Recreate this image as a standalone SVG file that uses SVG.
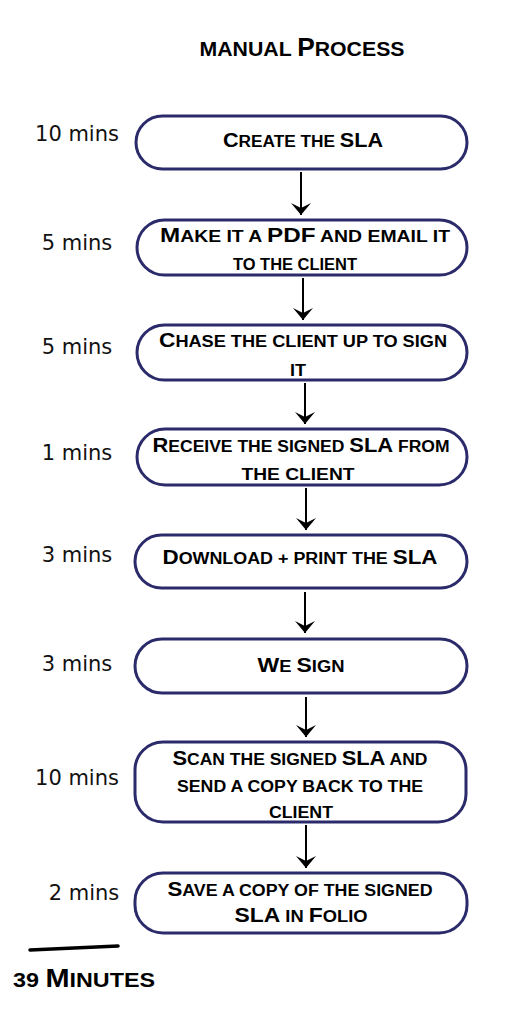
<svg xmlns="http://www.w3.org/2000/svg" width="517" height="1024" viewBox="0 0 517 1024">
<defs>
<marker id="ah" markerUnits="userSpaceOnUse" markerWidth="14" markerHeight="22" viewBox="0 0 14 22" refX="13" refY="11" orient="auto">
<path d="M1,1 L13,11 L1,21 L6,11 Z" fill="#000"/>
</marker>
</defs>
<style>
.box{fill:#fff;stroke:#2b2b6b;stroke-width:3}
.t{font-family:"Liberation Sans",Arial,sans-serif;font-weight:bold;font-size:16px;fill:#000;text-anchor:middle;text-transform:uppercase}
.b{font-size:20px}
.m{font-family:"DejaVu Sans","Liberation Sans",sans-serif;font-size:21px;fill:#111;text-anchor:middle}
.c{stroke:#000;stroke-width:2;fill:none;marker-end:url(#ah)}
</style>
<rect width="517" height="1024" fill="#fff"/>
<g id="title"><text class="t" x="302" y="56" textLength="205" lengthAdjust="spacingAndGlyphs" style="font-size:21px">Manual <tspan style="font-size:26px">P</tspan>rocess</text></g>
<g id="connectors">
<line class="c" x1="301" y1="172" x2="301" y2="215"/>
<line class="c" x1="303" y1="278" x2="303" y2="320"/>
<line class="c" x1="305" y1="383" x2="305" y2="424"/>
<line class="c" x1="306" y1="488" x2="306" y2="530"/>
<line class="c" x1="305" y1="592" x2="305" y2="633"/>
<line class="c" x1="306" y1="697" x2="306" y2="737"/>
<line class="c" x1="306" y1="825" x2="306" y2="868"/>
</g>
<g id="n1"><rect class="box" x="136" y="116" width="331" height="53" rx="26.5"/>
<text class="t" x="303" y="147" textLength="160" lengthAdjust="spacingAndGlyphs"><tspan class="b">C</tspan>reate the <tspan class="b">SLA</tspan></text>
<text class="m" x="77" y="141">10 mins</text></g>
<g id="n2"><rect class="box" x="137" y="220" width="330" height="55" rx="27.5"/>
<text class="t" x="305" y="242" textLength="290" lengthAdjust="spacingAndGlyphs"><tspan class="b">M</tspan>ake it a <tspan class="b">PDF</tspan> and email it</text>
<text class="t" x="295" y="270" textLength="124" lengthAdjust="spacingAndGlyphs">to the client</text>
<text class="m" x="77" y="250">5 mins</text></g>
<g id="n3"><rect class="box" x="137" y="325" width="330" height="55" rx="27.5"/>
<text class="t" x="303" y="347" textLength="288" lengthAdjust="spacingAndGlyphs"><tspan class="b">C</tspan>hase the client up to sign</text>
<text class="t" x="298" y="376" textLength="16" lengthAdjust="spacingAndGlyphs">it</text>
<text class="m" x="77" y="354">5 mins</text></g>
<g id="n4"><rect class="box" x="137" y="429" width="330" height="56" rx="28"/>
<text class="t" x="301" y="452" textLength="297" lengthAdjust="spacingAndGlyphs"><tspan class="b">R</tspan>eceive the signed <tspan class="b">SLA</tspan> from</text>
<text class="t" x="298" y="480" textLength="113" lengthAdjust="spacingAndGlyphs">the client</text>
<text class="m" x="77" y="460">1 mins</text></g>
<g id="n5"><rect class="box" x="135" y="535" width="332" height="53" rx="26.5"/>
<text class="t" x="300" y="564" textLength="275" lengthAdjust="spacingAndGlyphs"><tspan class="b">D</tspan>ownload + print the <tspan class="b">SLA</tspan></text>
<text class="m" x="77" y="562">3 mins</text></g>
<g id="n6"><rect class="box" x="135" y="639" width="332" height="54" rx="27"/>
<text class="t" x="301" y="672" textLength="87" lengthAdjust="spacingAndGlyphs"><tspan class="b">W</tspan>e <tspan class="b">S</tspan>ign</text>
<text class="m" x="77" y="671">3 mins</text></g>
<g id="n7"><rect class="box" x="135" y="742" width="331" height="80" rx="28"/>
<text class="t" x="300" y="765" textLength="255" lengthAdjust="spacingAndGlyphs"><tspan class="b">S</tspan>can the signed <tspan class="b">SLA</tspan> and</text>
<text class="t" x="300" y="792" textLength="246" lengthAdjust="spacingAndGlyphs">send a copy back to the</text>
<text class="t" x="301" y="818" textLength="64" lengthAdjust="spacingAndGlyphs">client</text>
<text class="m" x="77" y="785">10 mins</text></g>
<g id="n8"><rect class="box" x="135" y="873" width="332" height="60" rx="28"/>
<text class="t" x="300" y="896" textLength="265" lengthAdjust="spacingAndGlyphs"><tspan class="b">S</tspan>ave a copy of the signed</text>
<text class="t" x="301" y="922" textLength="133" lengthAdjust="spacingAndGlyphs"><tspan class="b">SLA</tspan> in <tspan class="b">F</tspan>olio</text>
<text class="m" x="84" y="900">2 mins</text></g>
<g id="total">
<path d="M30,950 L118,946" stroke="#000" stroke-width="3.5" stroke-linecap="round" fill="none"/>
<text class="t" x="84" y="987" textLength="142" lengthAdjust="spacingAndGlyphs" style="font-size:21px">39 <tspan style="font-size:26px">M</tspan>inutes</text>
</g>
</svg>
